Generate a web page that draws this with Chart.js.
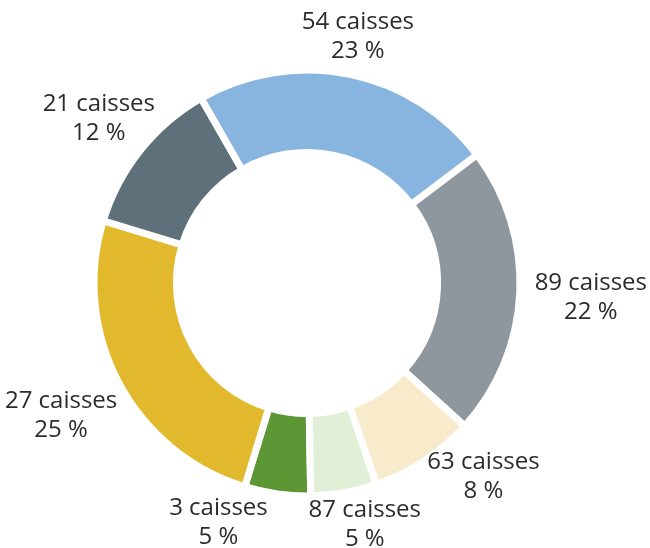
<!DOCTYPE html>
<html>
<head>
<meta charset="utf-8">
<script src="https://cdn.jsdelivr.net/npm/chart.js@4/dist/chart.umd.min.js"></script>
<style>
  html, body { margin: 0; padding: 0; background: #ffffff; }
  #wrap { width: 650px; height: 548px; position: relative; }
</style>
</head>
<body>
<div id="wrap"><canvas id="c" width="650" height="548"></canvas></div>
<script>
// ---- data ----
const caisses = [3, 27, 21, 54, 89, 63, 87];
const percents = [5, 25, 12, 23, 22, 8, 5];
const colors = ['#5d9735', '#e2b92c', '#5e707a', '#87b5e0', '#8f979e', '#f7ebcc', '#e1efd7'];
const unitLabel = 'caisses';

const labelLines = caisses.map((c, i) => [c + ' ' + unitLabel, percents[i] + ' %']);

const FONT = '24px "Open Sans", "Noto Sans", sans-serif';
const CAP = 17;       // cap height of digits
const LINE_GAP = 29;  // baseline-to-baseline
const TEXT_COLOR = '#2b2b2b';

const outerLabels = {
  id: 'outerLabels',
  afterDatasetsDraw(chart) {
    const ctx = chart.ctx;
    const meta = chart.getDatasetMeta(0);
    const W = chart.width, H = chart.height;
    ctx.save();
    ctx.font = FONT;
    const bw = chart.data.datasets[0].borderWidth || 0;
    const items = meta.data.map((arc, i) => {
      const p = arc.getProps(['x', 'y', 'startAngle', 'endAngle', 'outerRadius'], true);
      const lines = labelLines[i];
      const w = Math.max(...lines.map(l => ctx.measureText(l).width));
      return {
        i, x0: p.x, y0: p.y, phi: (p.startAngle + p.endAngle) / 2,
        rp: p.outerRadius - bw / 2 + 20,
        hw: w / 2, hh: (CAP + LINE_GAP) / 2, lines
      };
    });
    const place = b => {
      const vx = Math.cos(b.phi), vy = Math.sin(b.phi);
      const t = Math.min(Math.abs(vx) > 1e-6 ? b.hw / Math.abs(vx) : Infinity,
                         Math.abs(vy) > 1e-6 ? b.hh / Math.abs(vy) : Infinity);
      b.cx = b.x0 + vx * (b.rp + t);
      b.cy = b.y0 + vy * (b.rp + t);
      b.cx = Math.min(Math.max(b.cx, b.hw + 3), W - b.hw - 3);
      b.cy = Math.min(Math.max(b.cy, b.hh + 12), H - b.hh - 2);
    };
    items.forEach(place);
    const order = items.slice().sort((a, b) => a.phi - b.phi);
    const padX = 40, padY = 2, step = Math.PI / 900;
    for (let it = 0; it < 400; it++) {
      let moved = false;
      for (let k = 0; k < order.length; k++) {
        const A = order[k], B = order[(k + 1) % order.length];
        const ox = (A.hw + B.hw + padX) - Math.abs(A.cx - B.cx);
        const oy = (A.hh + B.hh + padY) - Math.abs(A.cy - B.cy);
        if (ox > 0 && oy > 0) {
          A.phi -= step; B.phi += step;
          place(A); place(B);
          moved = true;
        }
      }
      if (!moved) break;
    }
    ctx.fillStyle = TEXT_COLOR;
    ctx.textAlign = 'center';
    ctx.textBaseline = 'alphabetic';
    items.forEach(b => {
      const top = b.cy - b.hh;
      ctx.fillText(b.lines[0], b.cx, top + CAP);
      ctx.fillText(b.lines[1], b.cx, top + CAP + LINE_GAP);
    });
    ctx.restore();
  }
};

new Chart(document.getElementById('c'), {
  type: 'doughnut',
  data: {
    labels: labelLines.map(l => l.join(' ')),
    datasets: [{
      data: percents,
      backgroundColor: colors,
      borderColor: '#ffffff',
      borderWidth: 7,
      hoverOffset: 0
    }]
  },
  options: {
    responsive: false,
    animation: false,
    rotation: 179,
    radius: 213,
    cutout: '61.3%',
    layout: { padding: { left: 0, right: 36, top: 18, bottom: 0 } },
    plugins: {
      legend: { display: false },
      tooltip: { enabled: false }
    }
  },
  plugins: [outerLabels]
});
</script>
</body>
</html>
